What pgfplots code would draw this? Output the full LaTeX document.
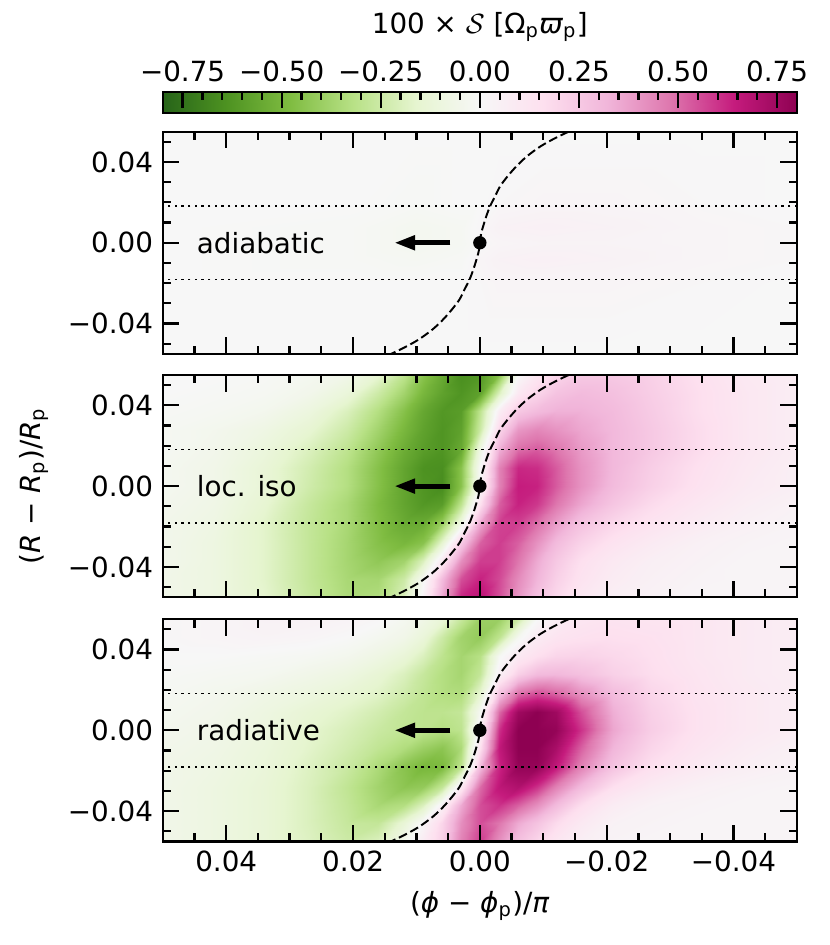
\documentclass[border=0pt]{standalone}
\usepackage{fontspec}
\setmainfont{DejaVu Sans}
\usepackage{pgfplots}
\pgfplotsset{compat=1.18}
\usetikzlibrary{arrows.meta}

\tikzset{lab/.style={anchor=west, inner sep=0pt}}
\pgfplotsset{
  colormap={piyg}{rgb255=(39,100,25) rgb255=(77,146,33) rgb255=(127,188,65) rgb255=(184,225,134) rgb255=(230,245,208) rgb255=(247,247,247) rgb255=(253,224,239) rgb255=(241,182,218) rgb255=(222,119,174) rgb255=(197,27,125) rgb255=(142,1,82)},
  panel/.style={
    scale only axis, width=228.3pt, height=80pt, anchor=north west,
    xmin=-0.05, xmax=0.05, ymin=-0.055, ymax=0.055, x dir=reverse,
    scaled x ticks=false, scaled y ticks=false,
    xtick={0.04,0.02,0,-0.02,-0.04},
    minor xtick={0.045,0.035,0.03,0.025,0.015,0.01,0.005,-0.005,-0.01,-0.015,-0.025,-0.03,-0.035,-0.045},
    ytick={-0.04,0,0.04}, yticklabels={−0.04,0.00,0.04},
    minor ytick={-0.05,-0.03,-0.02,-0.01,0.01,0.02,0.03,0.05},
    tick align=inside, tick pos=both,
    major tick length=6pt, minor tick length=3pt,
    every tick/.append style={line width=0.8pt, black},
    axis line style={line width=0.8pt},
    colormap name=piyg, point meta min=-0.8, point meta max=0.8,
    axis on top,
  },
  heat/.style={surf, shader=interp, point meta=explicit},
  hline/.style={black, line width=0.5pt, dash pattern=on 0.8pt off 1.6pt},
  wake/.style={black, line width=0.7pt, dash pattern=on 3.2pt off 1.4pt, smooth},
  arr/.style={black, line width=1.8pt, -{Triangle[length=7.5pt, width=5pt]}},
  dot/.style={only marks, mark=*, mark size=2.2pt, black},
}

\newcommand\overlays{%
  \addplot[hline] coordinates {(-0.05,0.0182) (0.05,0.0182)};
  \addplot[hline] coordinates {(-0.05,-0.0182) (0.05,-0.0182)};
  \addplot[wake] coordinates {(-0.0140,0.055) (-0.0120,0.052) (-0.0097,0.048) (-0.0075,0.043) (-0.0058,0.038) (-0.0044,0.033) (-0.0032,0.028) (-0.0024,0.023) (-0.0016,0.018) (-0.0010,0.013) (-0.0006,0.009) (-0.0002,0.0045) (0,0) (0.0002,-0.0045) (0.0006,-0.009) (0.0010,-0.013) (0.0016,-0.018) (0.0024,-0.023) (0.0032,-0.028) (0.0044,-0.033) (0.0058,-0.038) (0.0075,-0.043) (0.0097,-0.048) (0.0120,-0.052) (0.0140,-0.055)};
  \addplot[arr] coordinates {(0.00465,0) (0.0135,0)};
  \addplot[dot] coordinates {(0,0)};
}

\begin{document}
\begin{tikzpicture}

% panel 1: adiabatic
\begin{axis}[panel, at={(0,0)}, xticklabel=\empty]
\addplot[heat, mesh/cols=10] table[row sep=\\, meta=c] {x y c\\
0.05 0.055 0\\ 0.02 0.055 0\\ 0.01 0.055 0\\ 0.003 0.055 0\\ 0 0.055 0\\ -0.003 0.055 0\\ -0.01 0.055 0\\ -0.02 0.055 0\\ -0.035 0.055 0\\ -0.05 0.055 0\\
0.05 0.02 0\\ 0.02 0.02 0\\ 0.01 0.02 -0.01\\ 0.003 0.02 0\\ 0 0.02 0\\ -0.003 0.02 0.01\\ -0.01 0.02 0.02\\ -0.02 0.02 0.02\\ -0.035 0.02 0.01\\ -0.05 0.02 0\\
0.05 0.008 0\\ 0.02 0.008 -0.01\\ 0.01 0.008 -0.03\\ 0.003 0.008 -0.02\\ 0 0.008 0.01\\ -0.003 0.008 0.04\\ -0.01 0.008 0.05\\ -0.02 0.008 0.04\\ -0.035 0.008 0.02\\ -0.05 0.008 0.01\\
0.05 0 0\\ 0.02 0 -0.01\\ 0.01 0 -0.03\\ 0.003 0 -0.02\\ 0 0 0\\ -0.003 0 0.02\\ -0.01 0 0.03\\ -0.02 0 0.03\\ -0.035 0 0.02\\ -0.05 0 0.01\\
0.05 -0.008 0\\ 0.02 -0.008 -0.01\\ 0.01 -0.008 -0.02\\ 0.003 -0.008 -0.01\\ 0 -0.008 0.02\\ -0.003 -0.008 0.04\\ -0.01 -0.008 0.05\\ -0.02 -0.008 0.04\\ -0.035 -0.008 0.02\\ -0.05 -0.008 0.01\\
0.05 -0.02 0\\ 0.02 -0.02 0\\ 0.01 -0.02 0\\ 0.003 -0.02 0\\ 0 -0.02 0.01\\ -0.003 -0.02 0.02\\ -0.01 -0.02 0.02\\ -0.02 -0.02 0.02\\ -0.035 -0.02 0.01\\ -0.05 -0.02 0\\
0.05 -0.055 0\\ 0.02 -0.055 0\\ 0.01 -0.055 0\\ 0.003 -0.055 0\\ 0 -0.055 0\\ -0.003 -0.055 0\\ -0.01 -0.055 0\\ -0.02 -0.055 0\\ -0.035 -0.055 0\\ -0.05 -0.055 0\\
};
\overlays
\node[lab] at (axis cs:0.0447,0) {adiabatic};
\end{axis}

% panel 2: loc. iso
\begin{axis}[panel, at={(0,-87.6pt)}, xticklabel=\empty,
  ylabel={(\textit{R} − \textit{R}\textsubscript{p})/\textit{R}\textsubscript{p}}]
\addplot[heat, mesh/cols=21] table[row sep=\\, meta=c] {x y c\\
0.05 0.055 0\\ 0.042 0.055 0\\ 0.034 0.055 -0.01\\ 0.027 0.055 -0.03\\ 0.021 0.055 -0.06\\ 0.016 0.055 -0.15\\ 0.012 0.055 -0.3\\ 0.009 0.055 -0.45\\ 0.006 0.055 -0.55\\ 0.003 0.055 -0.65\\ 0 0.055 -0.62\\ -0.003 0.055 -0.45\\ -0.006 0.055 0\\ -0.009 0.055 0.12\\ -0.012 0.055 0.2\\ -0.016 0.055 0.25\\ -0.021 0.055 0.25\\ -0.027 0.055 0.22\\ -0.034 0.055 0.16\\ -0.042 0.055 0.1\\ -0.05 0.055 0.07\\
0.05 0.046 0\\ 0.042 0.046 -0.01\\ 0.034 0.046 -0.02\\ 0.027 0.046 -0.05\\ 0.021 0.046 -0.12\\ 0.016 0.046 -0.25\\ 0.012 0.046 -0.38\\ 0.009 0.046 -0.5\\ 0.006 0.046 -0.58\\ 0.003 0.046 -0.63\\ 0 0.046 -0.58\\ -0.003 0.046 -0.2\\ -0.006 0.046 0.1\\ -0.009 0.046 0.2\\ -0.012 0.046 0.27\\ -0.016 0.046 0.3\\ -0.021 0.046 0.28\\ -0.027 0.046 0.23\\ -0.034 0.046 0.17\\ -0.042 0.046 0.11\\ -0.05 0.046 0.07\\
0.05 0.037 -0.01\\ 0.042 0.037 -0.02\\ 0.034 0.037 -0.04\\ 0.027 0.037 -0.1\\ 0.021 0.037 -0.2\\ 0.016 0.037 -0.33\\ 0.012 0.037 -0.46\\ 0.009 0.037 -0.56\\ 0.006 0.037 -0.62\\ 0.003 0.037 -0.6\\ 0 0.037 -0.3\\ -0.003 0.037 0.07\\ -0.006 0.037 0.25\\ -0.009 0.037 0.3\\ -0.012 0.037 0.33\\ -0.016 0.037 0.33\\ -0.021 0.037 0.3\\ -0.027 0.037 0.24\\ -0.034 0.037 0.17\\ -0.042 0.037 0.11\\ -0.05 0.037 0.07\\
0.05 0.028 -0.02\\ 0.042 0.028 -0.04\\ 0.034 0.028 -0.08\\ 0.027 0.028 -0.15\\ 0.021 0.028 -0.25\\ 0.016 0.028 -0.38\\ 0.012 0.028 -0.5\\ 0.009 0.028 -0.58\\ 0.006 0.028 -0.63\\ 0.003 0.028 -0.58\\ 0 0.028 -0.25\\ -0.003 0.028 0.2\\ -0.006 0.028 0.4\\ -0.009 0.028 0.44\\ -0.012 0.028 0.41\\ -0.016 0.028 0.36\\ -0.021 0.028 0.31\\ -0.027 0.028 0.25\\ -0.034 0.028 0.18\\ -0.042 0.028 0.11\\ -0.05 0.028 0.07\\
0.05 0.018 -0.02\\ 0.042 0.018 -0.05\\ 0.034 0.018 -0.11\\ 0.027 0.018 -0.2\\ 0.021 0.018 -0.3\\ 0.016 0.018 -0.43\\ 0.012 0.018 -0.54\\ 0.009 0.018 -0.6\\ 0.006 0.018 -0.63\\ 0.003 0.018 -0.55\\ 0 0.018 -0.08\\ -0.003 0.018 0.34\\ -0.006 0.018 0.5\\ -0.009 0.018 0.53\\ -0.012 0.018 0.48\\ -0.016 0.018 0.39\\ -0.021 0.018 0.31\\ -0.027 0.018 0.25\\ -0.034 0.018 0.18\\ -0.042 0.018 0.11\\ -0.05 0.018 0.07\\
0.05 0.009 -0.03\\ 0.042 0.009 -0.06\\ 0.034 0.009 -0.13\\ 0.027 0.009 -0.23\\ 0.021 0.009 -0.33\\ 0.016 0.009 -0.46\\ 0.012 0.009 -0.57\\ 0.009 0.009 -0.64\\ 0.006 0.009 -0.65\\ 0.003 0.009 -0.45\\ 0 0.009 0\\ -0.003 0.009 0.45\\ -0.006 0.009 0.62\\ -0.009 0.009 0.61\\ -0.012 0.009 0.53\\ -0.016 0.009 0.41\\ -0.021 0.009 0.31\\ -0.027 0.009 0.23\\ -0.034 0.009 0.16\\ -0.042 0.009 0.1\\ -0.05 0.009 0.06\\
0.05 0 -0.03\\ 0.042 0 -0.06\\ 0.034 0 -0.13\\ 0.027 0 -0.24\\ 0.021 0 -0.33\\ 0.016 0 -0.46\\ 0.012 0 -0.57\\ 0.009 0 -0.63\\ 0.006 0 -0.66\\ 0.003 0 -0.45\\ 0 0 0\\ -0.003 0 0.45\\ -0.006 0 0.64\\ -0.009 0 0.63\\ -0.012 0 0.53\\ -0.016 0 0.41\\ -0.021 0 0.3\\ -0.027 0 0.22\\ -0.034 0 0.15\\ -0.042 0 0.09\\ -0.05 0 0.06\\
0.05 -0.009 -0.04\\ 0.042 -0.009 -0.07\\ 0.034 -0.009 -0.15\\ 0.027 -0.009 -0.27\\ 0.021 -0.009 -0.36\\ 0.016 -0.009 -0.48\\ 0.012 -0.009 -0.57\\ 0.009 -0.009 -0.62\\ 0.006 -0.009 -0.6\\ 0.003 -0.009 -0.3\\ 0 -0.009 0.15\\ -0.003 -0.009 0.52\\ -0.006 -0.009 0.63\\ -0.009 -0.009 0.59\\ -0.012 -0.009 0.48\\ -0.016 -0.009 0.36\\ -0.021 -0.009 0.26\\ -0.027 -0.009 0.18\\ -0.034 -0.009 0.12\\ -0.042 -0.009 0.07\\ -0.05 -0.009 0.04\\
0.05 -0.018 -0.05\\ 0.042 -0.018 -0.08\\ 0.034 -0.018 -0.17\\ 0.027 -0.018 -0.28\\ 0.021 -0.018 -0.36\\ 0.016 -0.018 -0.47\\ 0.012 -0.018 -0.55\\ 0.009 -0.018 -0.55\\ 0.006 -0.018 -0.42\\ 0.003 -0.018 -0.1\\ 0 -0.018 0.34\\ -0.003 -0.018 0.57\\ -0.006 -0.018 0.58\\ -0.009 -0.018 0.5\\ -0.012 -0.018 0.39\\ -0.016 -0.018 0.28\\ -0.021 -0.018 0.2\\ -0.027 -0.018 0.14\\ -0.034 -0.018 0.09\\ -0.042 -0.018 0.05\\ -0.05 -0.018 0.03\\
0.05 -0.028 -0.05\\ 0.042 -0.028 -0.09\\ 0.034 -0.028 -0.17\\ 0.027 -0.028 -0.28\\ 0.021 -0.028 -0.37\\ 0.016 -0.028 -0.46\\ 0.012 -0.028 -0.5\\ 0.009 -0.028 -0.45\\ 0.006 -0.028 -0.15\\ 0.003 -0.028 0.25\\ 0 -0.028 0.52\\ -0.003 -0.028 0.58\\ -0.006 -0.028 0.52\\ -0.009 -0.028 0.41\\ -0.012 -0.028 0.3\\ -0.016 -0.028 0.21\\ -0.021 -0.028 0.14\\ -0.027 -0.028 0.09\\ -0.034 -0.028 0.05\\ -0.042 -0.028 0.03\\ -0.05 -0.028 0.02\\
0.05 -0.037 -0.05\\ 0.042 -0.037 -0.09\\ 0.034 -0.037 -0.17\\ 0.027 -0.037 -0.28\\ 0.021 -0.037 -0.37\\ 0.016 -0.037 -0.43\\ 0.012 -0.037 -0.38\\ 0.009 -0.037 -0.2\\ 0.006 -0.037 0.1\\ 0.003 -0.037 0.42\\ 0 -0.037 0.58\\ -0.003 -0.037 0.58\\ -0.006 -0.037 0.48\\ -0.009 -0.037 0.35\\ -0.012 -0.037 0.25\\ -0.016 -0.037 0.16\\ -0.021 -0.037 0.1\\ -0.027 -0.037 0.06\\ -0.034 -0.037 0.04\\ -0.042 -0.037 0.02\\ -0.05 -0.037 0.02\\
0.05 -0.046 -0.06\\ 0.042 -0.046 -0.09\\ 0.034 -0.046 -0.17\\ 0.027 -0.046 -0.28\\ 0.021 -0.046 -0.36\\ 0.016 -0.046 -0.37\\ 0.012 -0.046 -0.25\\ 0.009 -0.046 -0.02\\ 0.006 -0.046 0.3\\ 0.003 -0.046 0.55\\ 0 -0.046 0.63\\ -0.003 -0.046 0.56\\ -0.006 -0.046 0.43\\ -0.009 -0.046 0.32\\ -0.012 -0.046 0.22\\ -0.016 -0.046 0.14\\ -0.021 -0.046 0.08\\ -0.027 -0.046 0.05\\ -0.034 -0.046 0.03\\ -0.042 -0.046 0.02\\ -0.05 -0.046 0.02\\
0.05 -0.055 -0.06\\ 0.042 -0.055 -0.09\\ 0.034 -0.055 -0.16\\ 0.027 -0.055 -0.27\\ 0.021 -0.055 -0.35\\ 0.016 -0.055 -0.34\\ 0.012 -0.055 -0.2\\ 0.009 -0.055 0.03\\ 0.006 -0.055 0.35\\ 0.003 -0.055 0.62\\ 0 -0.055 0.67\\ -0.003 -0.055 0.55\\ -0.006 -0.055 0.4\\ -0.009 -0.055 0.28\\ -0.012 -0.055 0.19\\ -0.016 -0.055 0.11\\ -0.021 -0.055 0.06\\ -0.027 -0.055 0.04\\ -0.034 -0.055 0.02\\ -0.042 -0.055 0.02\\ -0.05 -0.055 0.02\\
};
\overlays
\node[lab] at (axis cs:0.0447,0) {loc. iso};
\end{axis}

% panel 3: radiative
\begin{axis}[panel, at={(0,-175.5pt)},
  xticklabels={0.04,0.02,0.00,−0.02,−0.04},
  xlabel={(\textit{ϕ} − \textit{ϕ}\textsubscript{p})/\textit{π}}]
\addplot[heat, mesh/cols=21] table[row sep=\\, meta=c] {x y c\\
0.05 0.055 0.01\\ 0.042 0.055 0.02\\ 0.034 0.055 0.04\\ 0.027 0.055 0.04\\ 0.021 0.055 0.03\\ 0.016 0.055 0.01\\ 0.012 0.055 -0.03\\ 0.009 0.055 -0.07\\ 0.006 0.055 -0.13\\ 0.003 0.055 -0.27\\ 0 0.055 -0.4\\ -0.003 0.055 -0.4\\ -0.006 0.055 -0.25\\ -0.009 0.055 0\\ -0.012 0.055 0.07\\ -0.016 0.055 0.12\\ -0.021 0.055 0.14\\ -0.027 0.055 0.13\\ -0.034 0.055 0.12\\ -0.042 0.055 0.09\\ -0.05 0.055 0.07\\
0.05 0.046 0.01\\ 0.042 0.046 0.02\\ 0.034 0.046 0.03\\ 0.027 0.046 0.02\\ 0.021 0.046 0\\ 0.016 0.046 -0.03\\ 0.012 0.046 -0.06\\ 0.009 0.046 -0.12\\ 0.006 0.046 -0.25\\ 0.003 0.046 -0.38\\ 0 0.046 -0.42\\ -0.003 0.046 -0.3\\ -0.006 0.046 -0.03\\ -0.009 0.046 0.08\\ -0.012 0.046 0.13\\ -0.016 0.046 0.15\\ -0.021 0.046 0.16\\ -0.027 0.046 0.15\\ -0.034 0.046 0.12\\ -0.042 0.046 0.09\\ -0.05 0.046 0.07\\
0.05 0.037 0\\ 0.042 0.037 0\\ 0.034 0.037 -0.01\\ 0.027 0.037 -0.02\\ 0.021 0.037 -0.04\\ 0.016 0.037 -0.08\\ 0.012 0.037 -0.13\\ 0.009 0.037 -0.2\\ 0.006 0.037 -0.3\\ 0.003 0.037 -0.37\\ 0 0.037 -0.32\\ -0.003 0.037 -0.02\\ -0.006 0.037 0.1\\ -0.009 0.037 0.16\\ -0.012 0.037 0.2\\ -0.016 0.037 0.21\\ -0.021 0.037 0.19\\ -0.027 0.037 0.16\\ -0.034 0.037 0.12\\ -0.042 0.037 0.09\\ -0.05 0.037 0.07\\
0.05 0.028 -0.01\\ 0.042 0.028 -0.02\\ 0.034 0.028 -0.03\\ 0.027 0.028 -0.06\\ 0.021 0.028 -0.09\\ 0.016 0.028 -0.14\\ 0.012 0.028 -0.2\\ 0.009 0.028 -0.27\\ 0.006 0.028 -0.33\\ 0.003 0.028 -0.37\\ 0 0.028 -0.28\\ -0.003 0.028 0.05\\ -0.006 0.028 0.22\\ -0.009 0.028 0.3\\ -0.012 0.028 0.31\\ -0.016 0.028 0.28\\ -0.021 0.028 0.22\\ -0.027 0.028 0.17\\ -0.034 0.028 0.13\\ -0.042 0.028 0.09\\ -0.05 0.028 0.07\\
0.05 0.018 -0.02\\ 0.042 0.018 -0.04\\ 0.034 0.018 -0.07\\ 0.027 0.018 -0.1\\ 0.021 0.018 -0.14\\ 0.016 0.018 -0.18\\ 0.012 0.018 -0.24\\ 0.009 0.018 -0.29\\ 0.006 0.018 -0.33\\ 0.003 0.018 -0.34\\ 0 0.018 -0.15\\ -0.003 0.018 0.28\\ -0.006 0.018 0.5\\ -0.009 0.018 0.56\\ -0.012 0.018 0.52\\ -0.016 0.018 0.42\\ -0.021 0.018 0.3\\ -0.027 0.018 0.2\\ -0.034 0.018 0.14\\ -0.042 0.018 0.1\\ -0.05 0.018 0.07\\
0.05 0.009 -0.03\\ 0.042 0.009 -0.05\\ 0.034 0.009 -0.09\\ 0.027 0.009 -0.14\\ 0.021 0.009 -0.18\\ 0.016 0.009 -0.23\\ 0.012 0.009 -0.28\\ 0.009 0.009 -0.3\\ 0.006 0.009 -0.3\\ 0.003 0.009 -0.28\\ 0 0.009 -0.02\\ -0.003 0.009 0.5\\ -0.006 0.009 0.75\\ -0.009 0.009 0.8\\ -0.012 0.009 0.75\\ -0.016 0.009 0.55\\ -0.021 0.009 0.34\\ -0.027 0.009 0.22\\ -0.034 0.009 0.15\\ -0.042 0.009 0.1\\ -0.05 0.009 0.07\\
0.05 0 -0.04\\ 0.042 0 -0.06\\ 0.034 0 -0.1\\ 0.027 0 -0.16\\ 0.021 0 -0.21\\ 0.016 0 -0.26\\ 0.012 0 -0.29\\ 0.009 0 -0.3\\ 0.006 0 -0.33\\ 0.003 0 -0.3\\ 0 0 0.05\\ -0.003 0 0.6\\ -0.006 0 0.8\\ -0.009 0 0.8\\ -0.012 0 0.78\\ -0.016 0 0.6\\ -0.021 0 0.36\\ -0.027 0 0.23\\ -0.034 0 0.15\\ -0.042 0 0.1\\ -0.05 0 0.07\\
0.05 -0.009 -0.05\\ 0.042 -0.009 -0.07\\ 0.034 -0.009 -0.11\\ 0.027 -0.009 -0.17\\ 0.021 -0.009 -0.23\\ 0.016 -0.009 -0.29\\ 0.012 -0.009 -0.34\\ 0.009 -0.009 -0.4\\ 0.006 -0.009 -0.44\\ 0.003 -0.009 -0.35\\ 0 -0.009 0.15\\ -0.003 -0.009 0.65\\ -0.006 -0.009 0.8\\ -0.009 -0.009 0.8\\ -0.012 -0.009 0.72\\ -0.016 -0.009 0.52\\ -0.021 -0.009 0.32\\ -0.027 -0.009 0.2\\ -0.034 -0.009 0.13\\ -0.042 -0.009 0.08\\ -0.05 -0.009 0.05\\
0.05 -0.018 -0.06\\ 0.042 -0.018 -0.08\\ 0.034 -0.018 -0.12\\ 0.027 -0.018 -0.19\\ 0.021 -0.018 -0.26\\ 0.016 -0.018 -0.35\\ 0.012 -0.018 -0.45\\ 0.009 -0.018 -0.5\\ 0.006 -0.018 -0.49\\ 0.003 -0.018 -0.3\\ 0 -0.018 0.3\\ -0.003 -0.018 0.62\\ -0.006 -0.018 0.78\\ -0.009 -0.018 0.78\\ -0.012 -0.018 0.65\\ -0.016 -0.018 0.45\\ -0.021 -0.018 0.27\\ -0.027 -0.018 0.16\\ -0.034 -0.018 0.1\\ -0.042 -0.018 0.06\\ -0.05 -0.018 0.04\\
0.05 -0.028 -0.06\\ 0.042 -0.028 -0.09\\ 0.034 -0.028 -0.13\\ 0.027 -0.028 -0.2\\ 0.021 -0.028 -0.29\\ 0.016 -0.028 -0.38\\ 0.012 -0.028 -0.44\\ 0.009 -0.028 -0.42\\ 0.006 -0.028 -0.28\\ 0.003 -0.028 0.1\\ 0 -0.028 0.5\\ -0.003 -0.028 0.66\\ -0.006 -0.028 0.7\\ -0.009 -0.028 0.6\\ -0.012 -0.028 0.45\\ -0.016 -0.028 0.3\\ -0.021 -0.028 0.16\\ -0.027 -0.028 0.09\\ -0.034 -0.028 0.05\\ -0.042 -0.028 0.03\\ -0.05 -0.028 0.02\\
0.05 -0.037 -0.06\\ 0.042 -0.037 -0.09\\ 0.034 -0.037 -0.13\\ 0.027 -0.037 -0.2\\ 0.021 -0.037 -0.28\\ 0.016 -0.037 -0.36\\ 0.012 -0.037 -0.33\\ 0.009 -0.037 -0.2\\ 0.006 -0.037 0.05\\ 0.003 -0.037 0.35\\ 0 -0.037 0.55\\ -0.003 -0.037 0.6\\ -0.006 -0.037 0.52\\ -0.009 -0.037 0.42\\ -0.012 -0.037 0.3\\ -0.016 -0.037 0.17\\ -0.021 -0.037 0.08\\ -0.027 -0.037 0.04\\ -0.034 -0.037 0.03\\ -0.042 -0.037 0.02\\ -0.05 -0.037 0.02\\
0.05 -0.046 -0.06\\ 0.042 -0.046 -0.09\\ 0.034 -0.046 -0.13\\ 0.027 -0.046 -0.2\\ 0.021 -0.046 -0.27\\ 0.016 -0.046 -0.28\\ 0.012 -0.046 -0.13\\ 0.009 -0.046 0.02\\ 0.006 -0.046 0.2\\ 0.003 -0.046 0.42\\ 0 -0.046 0.55\\ -0.003 -0.046 0.48\\ -0.006 -0.046 0.35\\ -0.009 -0.046 0.27\\ -0.012 -0.046 0.18\\ -0.016 -0.046 0.1\\ -0.021 -0.046 0.04\\ -0.027 -0.046 0.03\\ -0.034 -0.046 0.02\\ -0.042 -0.046 0.02\\ -0.05 -0.046 0.02\\
0.05 -0.055 -0.06\\ 0.042 -0.055 -0.09\\ 0.034 -0.055 -0.13\\ 0.027 -0.055 -0.19\\ 0.021 -0.055 -0.25\\ 0.016 -0.055 -0.2\\ 0.012 -0.055 -0.05\\ 0.009 -0.055 0.08\\ 0.006 -0.055 0.22\\ 0.003 -0.055 0.45\\ 0 -0.055 0.58\\ -0.003 -0.055 0.42\\ -0.006 -0.055 0.28\\ -0.009 -0.055 0.2\\ -0.012 -0.055 0.12\\ -0.016 -0.055 0.06\\ -0.021 -0.055 0.03\\ -0.027 -0.055 0.02\\ -0.034 -0.055 0.02\\ -0.042 -0.055 0.02\\ -0.05 -0.055 0.02\\
};
\overlays
\node[lab] at (axis cs:0.0447,0) {radiative};
\end{axis}

% colorbar gradient and labels
\begin{axis}[scale only axis, width=228.3pt, height=7.8pt, at={(0,6.6pt)}, anchor=south west,
  xmin=-0.8, xmax=0.8, ymin=0, ymax=1, ytick=\empty,
  xtick={-0.75,-0.5,-0.25,0,0.25,0.5,0.75},
  xticklabels={−0.75,−0.50,−0.25,0.00,0.25,0.50,0.75},
  xtick pos=right, xticklabel pos=right, tick align=inside,
  major tick length=0pt, minor tick length=0pt,
  axis line style={line width=0.8pt}, axis on top,
  colormap name=piyg, point meta min=-0.8, point meta max=0.8,
  xlabel={100 × $\mathcal{S}$ [Ω\textsubscript{p}\textit{ϖ}\textsubscript{p}]},
]
\addplot[heat, mesh/cols=11] table[row sep=\\, meta=c] {x y c\\
-0.8 0 -0.8\\ -0.64 0 -0.64\\ -0.48 0 -0.48\\ -0.32 0 -0.32\\ -0.16 0 -0.16\\ 0 0 0\\ 0.16 0 0.16\\ 0.32 0 0.32\\ 0.48 0 0.48\\ 0.64 0 0.64\\ 0.8 0 0.8\\
-0.8 1 -0.8\\ -0.64 1 -0.64\\ -0.48 1 -0.48\\ -0.32 1 -0.32\\ -0.16 1 -0.16\\ 0 1 0\\ 0.16 1 0.16\\ 0.32 1 0.32\\ 0.48 1 0.48\\ 0.64 1 0.64\\ 0.8 1 0.8\\
};
\end{axis}

% colorbar frame and ticks (decoration)
\draw[line width=0.8pt, black] (0pt,6.6pt) rectangle (228.3pt,14.4pt);
\foreach \v in {-0.75,-0.5,-0.25,0,0.25,0.5,0.75}
  \draw[line width=0.8pt, black] ({(\v+0.8)*142.6875pt},14.4pt) -- ++(0pt,-6pt);
\foreach \v in {-0.7,-0.65,-0.6,-0.55,-0.45,-0.4,-0.35,-0.3,-0.2,-0.15,-0.1,-0.05,0.05,0.1,0.15,0.2,0.3,0.35,0.4,0.45,0.55,0.6,0.65,0.7}
  \draw[line width=0.8pt, black] ({(\v+0.8)*142.6875pt},14.4pt) -- ++(0pt,-3pt);

\pgfresetboundingbox
\path[use as bounding box] (-58.6pt,47.4pt) rectangle (240.2pt,-292.8pt);
\end{tikzpicture}
\end{document}
